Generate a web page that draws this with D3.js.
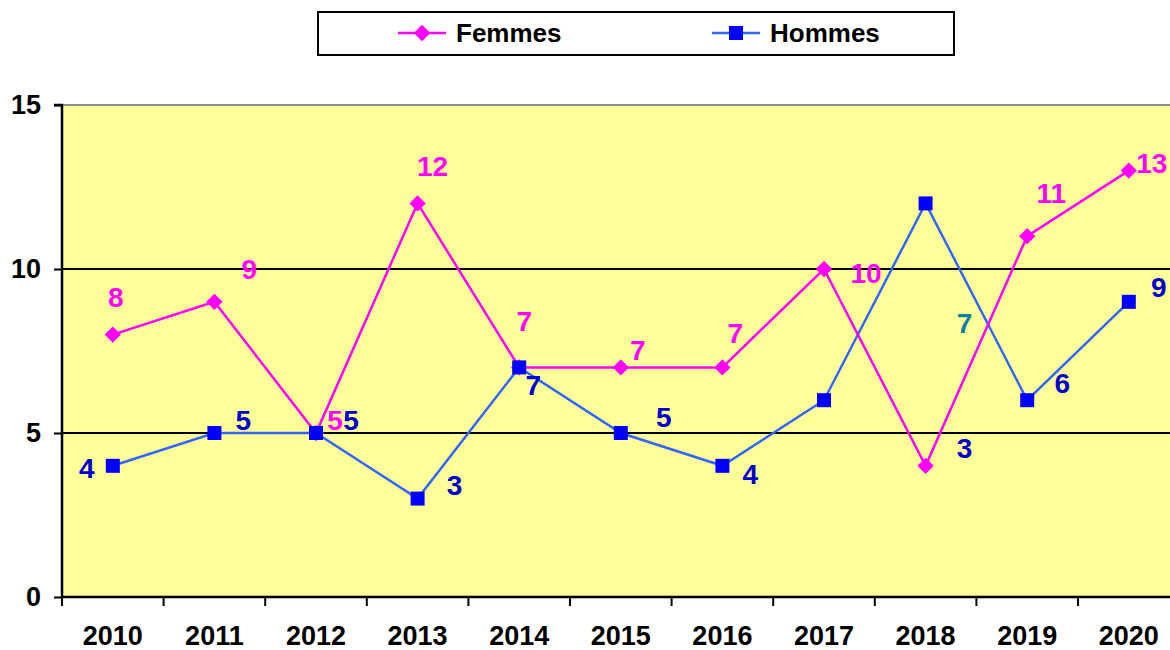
<!DOCTYPE html>
<html>
<head>
<meta charset="utf-8">
<script src="https://cdn.jsdelivr.net/npm/d3@7"></script>
<style>
  body { margin: 0; background: #fff; }
  svg { display: block; font-family: "Liberation Sans", Arial, sans-serif; font-weight: bold; }
</style>
</head>
<body>
<div id="chart"></div>
<script>
// --- Data ---
const years = ["2010", "2011", "2012", "2013", "2014", "2015", "2016", "2017", "2018", "2019", "2020"];
const femmes = [8, 9, 5, 12, 7, 7, 7, 10, 4, 11, 13];
const hommes = [4, 5, 5, 3, 7, 5, 4, 6, 12, 6, 9];
const yTicks = [0, 5, 10, 15];

// data labels as shown on the picture ("" = no label)
const femmesLabels = ["8", "9", "5", "12", "7", "7", "7", "10", "7", "11", "13"];
const hommesLabels = ["4", "5", "5", "3", "7", "5", "4", "", "3", "6", "9"];

// label placement, pixel offsets from the point
const femmesOffsets = [[3, -38], [35, -33], [19, -13], [15, -37], [5, -46], [17, -17], [13, -34], [42, 4], [39, -143], [24, -43], [23, -8]];
const hommesOffsets = [[-26, 2], [29, -13], [35, -13], [37, -14], [14, 18], [43, -16], [28, 8], [0, 0], [39, 245], [35, -17], [30, -15]];

// --- Layout ---
const width = 1170, height = 650;
const margin = { left: 62, top: 105, bottom: 53 };
const plotRight = margin.left + 101.6 * years.length;

const svg = d3.select("#chart").append("svg")
  .attr("width", width).attr("height", height);

const x = d3.scaleBand().domain(years).range([margin.left, plotRight]);
const y = d3.scaleLinear().domain([0, 15]).range([height - margin.bottom, margin.top]);
const cx = d => x(d) + x.bandwidth() / 2;

// plot background
svg.append("rect")
  .attr("x", margin.left).attr("y", y(15))
  .attr("width", plotRight - margin.left).attr("height", y(0) - y(15))
  .attr("fill", "#FFFF99");

// top border
svg.append("line")
  .attr("x1", margin.left).attr("x2", plotRight)
  .attr("y1", y(15)).attr("y2", y(15))
  .attr("stroke", "#8c8c8c").attr("stroke-width", 2);

// gridlines
svg.selectAll(".grid").data([5, 10]).enter().append("line")
  .attr("x1", margin.left).attr("x2", plotRight)
  .attr("y1", d => y(d)).attr("y2", d => y(d))
  .attr("stroke", "#000").attr("stroke-width", 2);

// y axis
const yAxis = svg.append("g")
  .attr("transform", `translate(${margin.left},0)`)
  .call(d3.axisLeft(y).tickValues(yTicks).tickSize(8).tickPadding(13));
yAxis.attr("font-size", 27).attr("font-family", "Liberation Sans, Arial, sans-serif");
yAxis.select(".domain").attr("stroke-width", 2.5).attr("d", `M-8,${y(15)}H0V${y(0)}`);
yAxis.selectAll(".tick line").attr("stroke-width", 2);
yAxis.selectAll("text").attr("font-weight", "bold").attr("fill", "#000");

// x axis: ticks at band boundaries
const xg = svg.append("g");
xg.append("line")
  .attr("x1", margin.left).attr("x2", plotRight)
  .attr("y1", y(0)).attr("y2", y(0))
  .attr("stroke", "#000").attr("stroke-width", 2.5);
xg.selectAll(".xt").data(years).enter().append("line")
  .attr("x1", d => x(d)).attr("x2", d => x(d))
  .attr("y1", y(0)).attr("y2", y(0) + 9)
  .attr("stroke", "#000").attr("stroke-width", 2);
xg.selectAll(".xl").data(years).enter().append("text")
  .attr("x", d => cx(d)).attr("y", y(0) + 48)
  .attr("text-anchor", "middle").attr("font-size", 27)
  .text(d => d);

// lines
const line = d3.line().x((d, i) => cx(years[i])).y(d => y(d));
svg.append("path").datum(hommes).attr("d", line)
  .attr("fill", "none").attr("stroke", "#3366FF").attr("stroke-width", 2.5);
svg.append("path").datum(femmes).attr("d", line)
  .attr("fill", "none").attr("stroke", "#FF00FF").attr("stroke-width", 2.5);

// markers
svg.selectAll(".fm").data(femmes).enter().append("path")
  .attr("d", d3.symbol(d3.symbolDiamond2, 170)())
  .attr("transform", (d, i) => `translate(${cx(years[i])},${y(d)})`)
  .attr("fill", "#FF00FF");
svg.selectAll(".hm").data(hommes).enter().append("rect")
  .attr("x", (d, i) => cx(years[i]) - 7).attr("y", d => y(d) - 7)
  .attr("width", 14).attr("height", 14)
  .attr("fill", "#0000FF");

// data labels
function drawLabels(values, labels, offsets, color) {
  svg.append("g").selectAll("text").data(values).enter()
    .append("text")
    .attr("x", (d, i) => cx(years[i]) + offsets[i][0])
    .attr("y", (d, i) => y(d) + offsets[i][1] + 10)
    .attr("text-anchor", "middle").attr("font-size", 28)
    .attr("fill", (d, i) => color(i))
    .text((d, i) => labels[i]);
}
drawLabels(femmes, femmesLabels, femmesOffsets, i => i === 8 ? "#157FA3" : "#FF00FF");
drawLabels(hommes, hommesLabels, hommesOffsets, () => "#0000CC");

// legend
const lg = svg.append("g");
lg.append("rect").attr("x", 318).attr("y", 12).attr("width", 636).attr("height", 43)
  .attr("fill", "#fff").attr("stroke", "#000").attr("stroke-width", 2);
const legendItems = [
  { name: "Femmes", color: "#FF00FF", line: "#FF00FF", x: 398, shape: "diamond" },
  { name: "Hommes", color: "#0000FF", line: "#3366FF", x: 712, shape: "square" }
];
legendItems.forEach(it => {
  lg.append("line").attr("x1", it.x).attr("x2", it.x + 48).attr("y1", 33).attr("y2", 33)
    .attr("stroke", it.line).attr("stroke-width", 2.5);
  if (it.shape === "diamond") {
    lg.append("path").attr("d", d3.symbol(d3.symbolDiamond2, 170)())
      .attr("transform", `translate(${it.x + 24},33)`).attr("fill", it.color);
  } else {
    lg.append("rect").attr("x", it.x + 17).attr("y", 26).attr("width", 14).attr("height", 14)
      .attr("fill", it.color);
  }
  lg.append("text").attr("x", it.x + 58).attr("y", 42).attr("font-size", 26).text(it.name);
});
</script>
</body>
</html>
